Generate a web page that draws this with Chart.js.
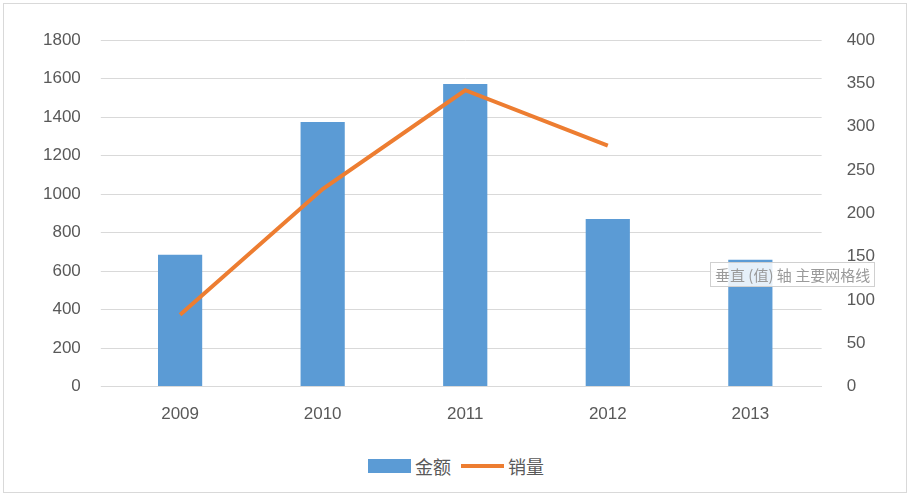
<!DOCTYPE html>
<html><head><meta charset="utf-8">
<script src="https://cdn.jsdelivr.net/npm/chart.js@4"></script>
<style>
body{margin:0;background:#fff;font-family:"Noto Sans CJK SC","Liberation Sans",sans-serif;}
#wrap{position:absolute;left:3px;top:3px;width:904px;height:490px;border:1px solid #d9d9d9;box-sizing:border-box;}
#c{position:absolute;left:0;top:0;}
#legend{position:absolute;top:446px;left:0;width:904px;text-align:center;font-size:18px;color:#595959;}
#legend span{display:inline-block;vertical-align:middle;}
#tip{position:absolute;left:706px;top:258px;border:1px solid #d0d0d0;background:rgba(255,255,255,0.85);color:#9a9a9a;font-size:15px;padding:1px 4px;}
</style></head><body>
<div id="wrap"><canvas id="c" width="904" height="431"></canvas>
<div id="legend"><span style="width:43px;height:14px;background:#5B9BD5;margin-right:4px"></span><span>金额</span><span style="width:43px;height:4px;background:#ED7D31;margin:0 4px 0 10px"></span><span>销量</span></div>
<div id="tip">垂直 (值) 轴 主要网格线</div></div>
<script>
const categories=["2009","2010","2011","2012","2013"];
const amount=[685,1374,1571,871,659];
const sales=[83,228,342,278,null];
const leftTicks=[0,200,400,600,800,1000,1200,1400,1600,1800];
const rightTicks=[0,50,100,150,200,250,300,350,400];
new Chart(document.getElementById('c'),{
 data:{labels:categories,datasets:[
  {type:'line',label:'销量',data:sales,yAxisID:'y1',borderColor:'#ED7D31',borderWidth:4,pointRadius:0,fill:false,tension:0,order:0},
  {type:'bar',label:'金额',data:amount,yAxisID:'y',backgroundColor:'#5B9BD5',barPercentage:0.31,categoryPercentage:1,order:1}
 ]},
 options:{responsive:false,animation:false,
  layout:{padding:{left:19,right:16,top:36,bottom:0}},
  plugins:{legend:{display:false},tooltip:{enabled:false}},
  scales:{
   x:{grid:{display:false},border:{color:'#d9d9d9'},ticks:{color:'#595959',font:{size:17},padding:10}},
   y:{position:'left',min:0,max:1800,afterBuildTicks:a=>{a.ticks=leftTicks.map(v=>({value:v}))},
      grid:{color:'#d9d9d9'},border:{display:false},ticks:{color:'#595959',font:{size:17},padding:20,callback:v=>String(v)}},
   y1:{position:'right',min:0,max:400,afterBuildTicks:a=>{a.ticks=rightTicks.map(v=>({value:v}))},
      grid:{display:false},border:{display:false},ticks:{color:'#595959',font:{size:17},padding:17,callback:v=>String(v)}}
  }}
});
</script></body></html>
